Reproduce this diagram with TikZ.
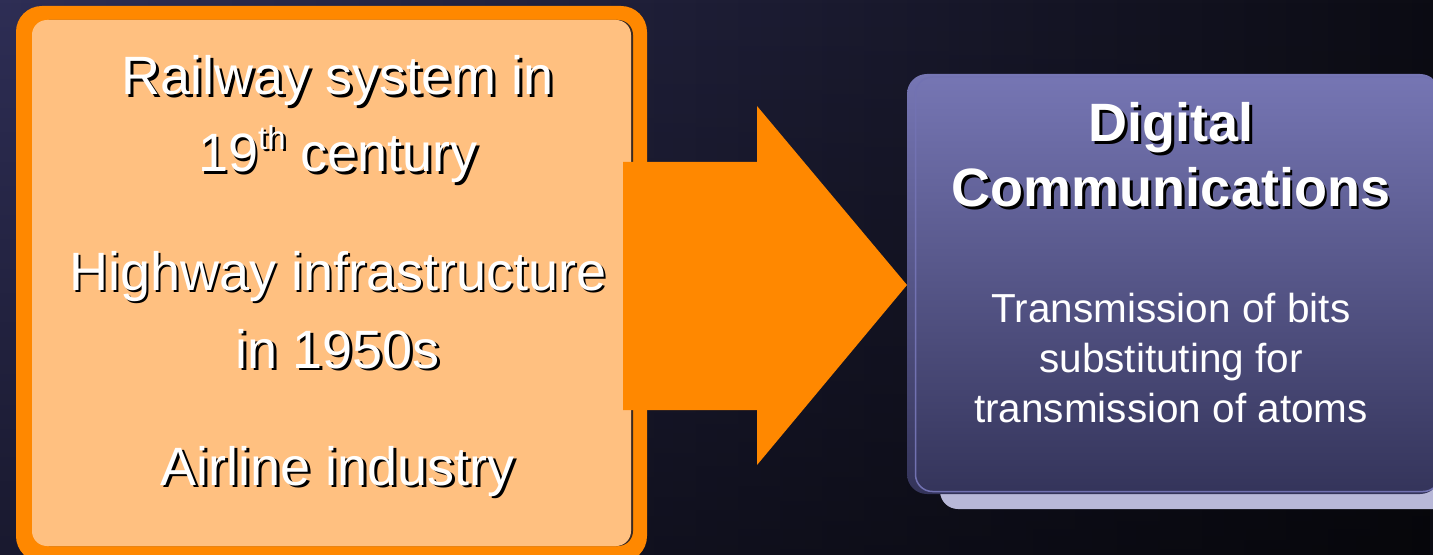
\documentclass[tikz,border=0pt]{standalone}
\usepackage{fontspec}
\setmainfont{Liberation Sans}
\usetikzlibrary{fadings}
\definecolor{bgL}{HTML}{2E2E55}
\definecolor{bgR}{HTML}{0C0C14}
\definecolor{orng}{HTML}{FF8800}
\definecolor{lightorng}{HTML}{FFC080}
\definecolor{innershadow}{HTML}{3A2A22}
\definecolor{boxtop}{HTML}{7676B4}
\definecolor{boxbot}{HTML}{34345A}
\definecolor{boxline}{HTML}{7272B2}
\definecolor{shadowlav}{HTML}{B8B8D8}
\newcommand\mysh[1]{\makebox[0pt][l]{\kern2.5bp\raisebox{-2.5bp}{\color{black}#1}}#1}
\newcommand\mysup[1]{\raisebox{0.42em}{\fontsize{33bp}{33bp}\selectfont #1}}
\begin{document}
\begin{tikzpicture}[x=1bp,y=-1bp,
  lefttxt/.style={text=white,font=\fontsize{54bp}{78bp}\selectfont,anchor=base,inner sep=0pt},
  righthead/.style={text=white,font=\fontsize{54bp}{63bp}\selectfont\bfseries,anchor=base,inner sep=0pt},
  rightbody/.style={text=white,font=\fontsize{40.5bp}{50bp}\selectfont,anchor=base,inner sep=0pt}]
\useasboundingbox (0,0) rectangle (1433,555);
\begin{scope}
\clip (0,0) rectangle (1433,555);
% background
\shade[left color=bgL,right color=bgR] (0,0) rectangle (1433,555);
\fill[black,opacity=0.45,path fading=north] (0,0) rectangle (1433,555);
% left box
\fill[orng,rounded corners=26] (16,6) rectangle (647,562);
\fill[innershadow,rounded corners=15] (34,20) rectangle (633,546);
\fill[lightorng,rounded corners=15] (32,20) rectangle (631,546);
% arrow
\fill[orng] (623,162) -- (757,162) -- (757,106) -- (907,285) -- (757,465) -- (757,410) -- (623,410) -- cycle;
% right box
\fill[shadowlav,rounded corners=18] (940,100) rectangle (1470,509);
\shade[top color=boxtop,bottom color=boxbot,rounded corners=20] (907,74) rectangle (1440,494);
\draw[boxline,line width=1.5bp,rounded corners=17] (915.5,77) rectangle (1440,491.5);
\end{scope}
% left texts
\node[lefttxt] (l1) at (338,95) {\mysh{Railway system in}};
\node[lefttxt] (l2) at (338,172) {\mysh{19\mysup{th} century}};
\node[lefttxt] (l3) at (338,290) {\mysh{Highway infrastructure}};
\node[lefttxt] (l4) at (338,368) {\mysh{in 1950s}};
\node[lefttxt] (l5) at (338,485) {\mysh{Airline industry}};
% right texts
\node[righthead] (h1) at (1171,142) {\mysh{Digital}};
\node[righthead] (h2) at (1171,207) {\mysh{Communications}};
\node[rightbody] (b1) at (1171,322) {Transmission of bits};
\node[rightbody] (b2) at (1171,372) {substituting for};
\node[rightbody] (b3) at (1171,422) {transmission of atoms};
\end{tikzpicture}
\end{document}
